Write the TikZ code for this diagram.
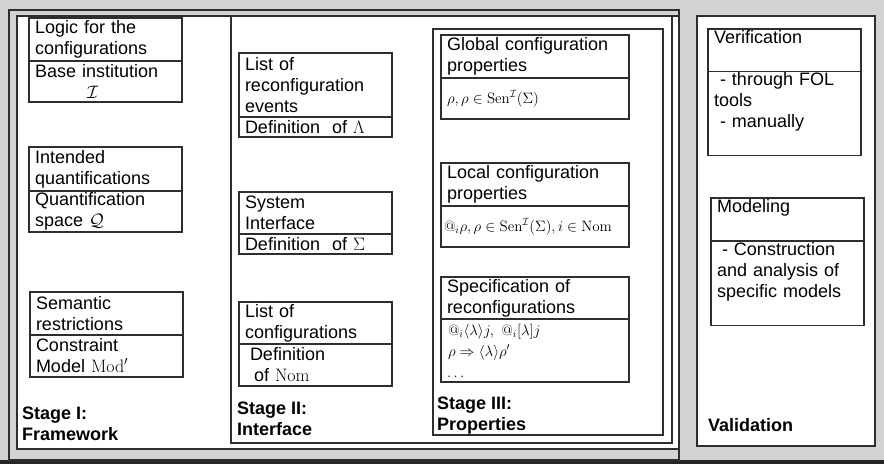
\RequirePackage{fix-cm}
\documentclass[tikz,border=0pt]{standalone}
\usepackage[no-math]{fontspec}
\newfontfamily\arialfont{Liberation Sans}
\usetikzlibrary{positioning}
\definecolor{panelgray}{HTML}{D3D3D3}
\definecolor{edge}{HTML}{2E2E2E}

\begin{document}
\begin{tikzpicture}[x=1pt, y=-1pt,
  frame/.style={draw=edge, line width=1.2pt},
  head/.style={draw=edge, line width=1.2pt, outer sep=0pt, inner xsep=6pt, inner ysep=1pt,
    anchor=north west, align=left, font=\arialfont\fontsize{18}{21}\selectfont},
  body/.style={head, below=0pt of #1},
  narrow/.style={text width=141pt},
  wide/.style={text width=176pt},
  formula/.style={font=\arialfont\fontsize{15}{21}\selectfont},
  stage/.style={anchor=north west, inner sep=0pt, align=left,
    font=\arialfont\bfseries\fontsize{18}{21}\selectfont}
  ]
  \useasboundingbox (0,0) rectangle (884,464);
  \fill[panelgray] (0,0) rectangle (884,464);
  \fill[black!85] (0,460) rectangle (884,464);

  % panels
  \draw[frame] (9,10) rectangle (679,460);
  \filldraw[frame, fill=white] (17,16) rectangle (679,449);
  \draw[frame] (231,16) rectangle (672,443);
  \draw[frame] (433,29) rectangle (663,435);
  \filldraw[frame, fill=white] (697,16) rectangle (875,446);

  % Stage I
  \node[head, narrow, minimum height=43pt] (logic) at (29,18) {Logic for the\\configurations};
  \node[body=logic, narrow, minimum height=41pt] (inst) {Base institution\\\hspace*{52pt}$\mathcal{I}$};
  \node[head, narrow, minimum height=44pt] (quant) at (29,147) {Intended\\quantifications};
  \node[body=quant, narrow, minimum height=41pt] (space) {Quantification\\space $\mathcal{Q}$};
  \node[head, narrow, minimum height=43pt] (sem) at (30,292) {Semantic\\restrictions};
  \node[body=sem, narrow, minimum height=42pt] (model) {Constraint\\Model\ $\mathrm{Mod}'$};
  \node[stage] (stage1) at (22,407) {Stage I:\\Framework};

  % Stage II
  \node[head, narrow, minimum height=64pt] (events) at (239,53) {List of\\reconfiguration\\events};
  \node[body=events, narrow, minimum height=20pt] (lambda) {Definition\ \ of $\Lambda$};
  \node[head, narrow, minimum height=42pt] (iface) at (239,192) {System\\Interface};
  \node[body=iface, narrow, minimum height=20pt] (sigma) {Definition\ \ of $\Sigma$};
  \node[head, narrow, minimum height=42pt] (confs) at (239,302) {List of\\configurations};
  \node[body=confs, narrow, minimum height=42pt] (nom) {\hspace*{5pt}Definition\\\hspace*{9pt}of $\mathrm{Nom}$};
  \node[stage] (stage2) at (237,402) {Stage II:\\Interface};

  % Stage III
  \node[head, wide, minimum height=43pt] (global) at (441,35) {Global configuration\\properties};
  \node[body=global, wide, formula, minimum height=41pt] (globalf) {$\rho, \rho \in \mathrm{Sen}^{\mathcal{I}}(\Sigma)$};
  \node[head, wide, minimum height=43pt] (local) at (441,163) {Local configuration\\properties};
  \node[body=local, wide, formula, minimum height=41pt] (localf) {\hspace*{-3pt}$@_i\rho, \rho \in \mathrm{Sen}^{\mathcal{I}}(\Sigma), i \in \mathrm{Nom}$};
  \node[head, wide, minimum height=42pt] (spec) at (441,277) {Specification of\\reconfigurations};
  \node[body=spec, wide, formula, minimum height=63pt] (specf) {\hspace*{1pt}$@_i\langle\lambda\rangle j,\ @_i[\lambda]j$\\\hspace*{1pt}$\rho \Rightarrow \langle\lambda\rangle\rho'$\\$\dots$};
  \node[stage] (stage3) at (437,397) {Stage III:\\Properties};

  % Validation
  \node[head, narrow, minimum height=42pt] (verif) at (708,29) {Verification\\\strut};
  \node[body=verif, narrow, minimum height=84pt] (tools) {\hspace*{6pt}- through FOL\\tools\\\hspace*{6pt}- manually\\\strut};
  \node[head, narrow, minimum height=43pt] (modeling) at (711,198) {Modeling\\\strut};
  \node[body=modeling, narrow, minimum height=83pt] (models) {\hspace*{5pt}- Construction\\and analysis of\\specific models\\\strut};
  \node[stage] (valid) at (708,418) {Validation};
\end{tikzpicture}
\end{document}
